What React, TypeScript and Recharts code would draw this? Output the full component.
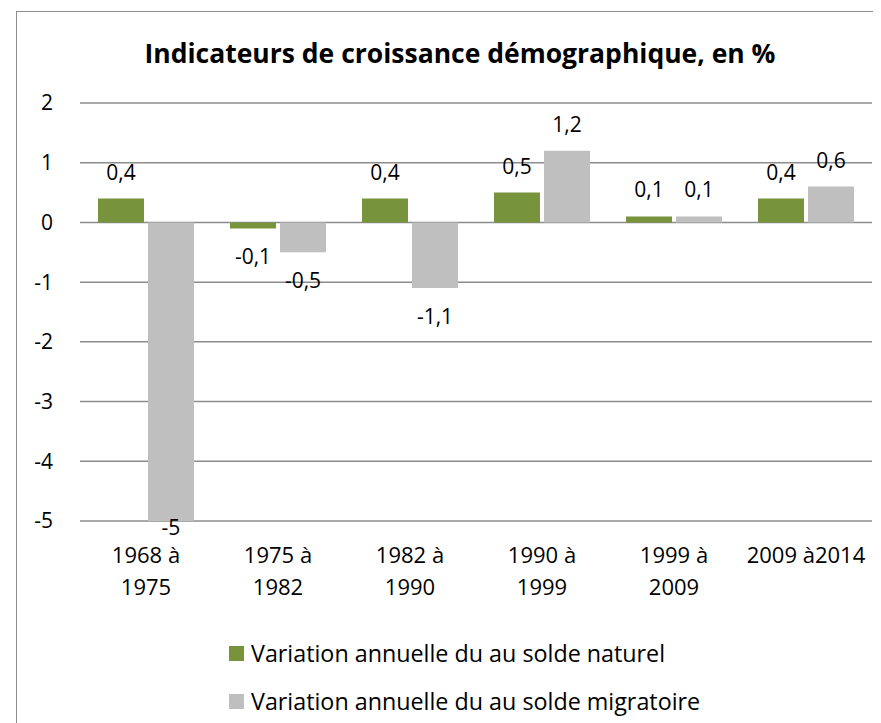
import React from "react";
import { BarChart, Bar, XAxis, YAxis, CartesianGrid, Legend } from "recharts";

const categories = ["1968 à\n1975", "1975 à\n1982", "1982 à\n1990", "1990 à\n1999", "1999 à\n2009", "2009 à2014"];
const soldeNaturel = [0.4, -0.1, 0.4, 0.5, 0.1, 0.4];
const soldeMigratoire = [-5, -0.5, -1.1, 1.2, 0.1, 0.6];
const yTicks = [-5, -4, -3, -2, -1, 0, 1, 2];
const seriesNames = ["Variation annuelle du au solde naturel", "Variation annuelle du au solde migratoire"];
const title = "Indicateurs de croissance démographique, en %";

const data = categories.map((c, i) => ({
  cat: c,
  naturel: soldeNaturel[i],
  migratoire: soldeMigratoire[i],
}));

const W = 873;
const H = 715;
const MT = 95;
const PLOT_H = 418;
const PLOT_BOTTOM = MT + PLOT_H;
const FONT = "'Open Sans', sans-serif";
const GREEN = "#77933c";
const GRAY = "#bfbfbf";

const fmt = (v: number) => String(v).replace(".", ",");

const makeLabel = (values: number[]) => (props: any) => {
  const { x, y, width, height, index } = props;
  const v = values[index];
  const top = Math.min(y, y + height);
  const bottom = Math.max(y, y + height);
  const baseline = v >= 0 ? top - 19 : Math.min(bottom + 36, PLOT_BOTTOM + 14);
  return (
    <text x={x + width / 2} y={baseline} textAnchor="middle" fontSize={21} fontFamily={FONT} fill="#000">
      {fmt(v)}
    </text>
  );
};

const XTick = (props: any) => {
  const { x, y, payload } = props;
  const lines = String(payload.value).split("\n");
  return (
    <g>
      {lines.map((l, i) => (
        <text key={i} x={x} y={y + 42 + i * 32} textAnchor="middle" fontSize={22} fontFamily={FONT} fill="#000">
          {l}
        </text>
      ))}
    </g>
  );
};

const LegendContent = () => (
  <div style={{ position: "absolute", left: 221, top: 0 }}>
    {[GREEN, GRAY].map((c, i) => (
      <div key={i} style={{ display: "flex", alignItems: "center", height: 48, fontFamily: FONT, fontSize: 23.3, color: "#000", whiteSpace: "nowrap" }}>
        <span style={{ display: "inline-block", width: 15, height: 15, background: c, marginRight: 7 }} />
        <span>{seriesNames[i]}</span>
      </div>
    ))}
  </div>
);

export default function App() {
  return (
    <div style={{ position: "relative", width: W, height: H, overflow: "hidden", background: "#fff" }}>
      <div style={{ position: "absolute", left: 8, top: 3, width: 1000, height: 1000, borderTop: "1px solid #8c8c8c", borderLeft: "1px solid #8c8c8c" }} />
      <div style={{ position: "absolute", left: 0, top: 27, width: 904, textAlign: "center", fontFamily: FONT, fontWeight: 700, fontSize: 26.5, color: "#000" }}>
        {title}
      </div>
      <div style={{ position: "absolute", left: 0, top: 0 }}>
        <BarChart width={W} height={H} data={data} margin={{ top: MT, right: 9, left: 0, bottom: 0 }} barCategoryGap={18} barGap={4}>
          <CartesianGrid vertical={false} stroke="#8c8c8c" strokeWidth={1.5} />
          <YAxis
            domain={[-5, 2]}
            ticks={yTicks}
            width={72}
            axisLine={false}
            tickLine={false}
            tickSize={0}
            tickMargin={27}
            interval={0}
            tick={{ fontSize: 21, fontFamily: FONT, fill: "#000" }}
            tickFormatter={fmt}
          />
          <XAxis dataKey="cat" height={H - PLOT_BOTTOM} axisLine={false} tickLine={false} tickSize={0} tickMargin={0} interval={0} tick={<XTick />} />
          <Legend verticalAlign="bottom" content={<LegendContent />} wrapperStyle={{ position: "absolute", left: 0, top: 621, width: W }} />
          <Bar dataKey="naturel" fill={GREEN} isAnimationActive={false} label={makeLabel(soldeNaturel)} />
          <Bar dataKey="migratoire" fill={GRAY} isAnimationActive={false} label={makeLabel(soldeMigratoire)} />
        </BarChart>
      </div>
    </div>
  );
}
